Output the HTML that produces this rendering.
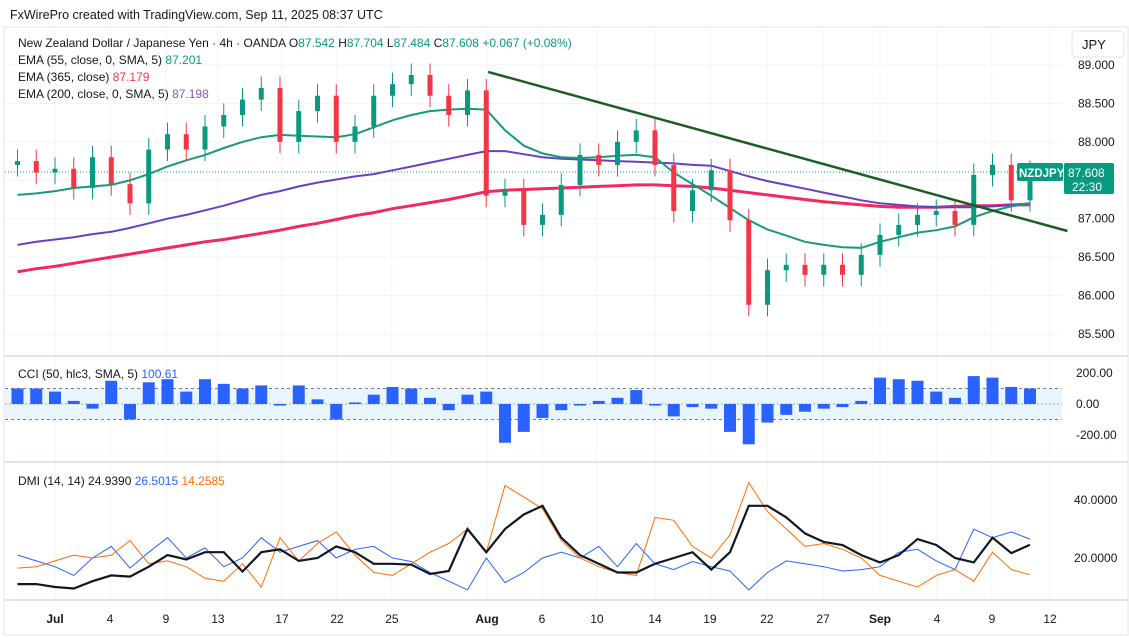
<!DOCTYPE html>
<html><head><meta charset="utf-8"><style>
html,body{margin:0;padding:0;background:#fff;width:1129px;height:638px;overflow:hidden;font-family:"Liberation Sans",sans-serif;}
svg text{font-family:"Liberation Sans",sans-serif;}
</style></head><body>
<svg id="chart" width="1129" height="638" xmlns="http://www.w3.org/2000/svg">
<text x="10" y="19" font-size="12.5" fill="#131722">FxWirePro created with TradingView.com, Sep 11, 2025 08:37 UTC</text>
<rect x="4" y="27" width="1124" height="608" fill="none" stroke="#e0e3eb"/>
<g id="grid"></g>
<g id="main"></g>
<g id="cci"></g>
<g id="dmi"></g>
<g id="axes"></g>
<g id="legend">
<text x="18" y="47" font-size="12" fill="#131722">New Zealand Dollar / Japanese Yen · 4h · OANDA  O<tspan fill="#089981">87.542</tspan>  H<tspan fill="#089981">87.704</tspan>  L<tspan fill="#089981">87.484</tspan>  C<tspan fill="#089981">87.608</tspan>  <tspan fill="#089981">+0.067 (+0.08%)</tspan></text>
<text x="18" y="64" font-size="12" fill="#131722">EMA (55, close, 0, SMA, 5) <tspan fill="#089981">87.201</tspan></text>
<text x="18" y="81" font-size="12" fill="#131722">EMA (365, close) <tspan fill="#f23645">87.179</tspan></text>
<text x="18" y="98" font-size="12" fill="#131722">EMA (200, close, 0, SMA, 5) <tspan fill="#7e57c2">87.198</tspan></text>
<text x="18" y="378" font-size="12" fill="#131722">CCI (50, hlc3, SMA, 5) <tspan fill="#2962ff">100.61</tspan></text>
<text x="18" y="485" font-size="12" fill="#131722">DMI (14, 14) 24.9390 <tspan fill="#2962ff">26.5015</tspan> <tspan fill="#ff6d00">14.2585</tspan></text>
</g>
<g>
<rect x="1072" y="31" width="52" height="26" rx="4" fill="#fff" stroke="#e0e3eb"/>
<text x="1082" y="49" font-size="13" fill="#131722">JPY</text>
</g>
</svg>
<script>
const days = ["Jun27","Jun30","Jul1","Jul2","Jul3","Jul4","Jul7","Jul8","Jul9","Jul10","Jul11","Jul14","Jul15","Jul16","Jul17","Jul18","Jul21","Jul22","Jul23","Jul24","Jul25","Jul28","Jul29","Jul30","Jul31","Aug1","Aug4","Aug5","Aug6","Aug7","Aug8","Aug11","Aug12","Aug13","Aug14","Aug15","Aug18","Aug19","Aug20","Aug21","Aug22","Aug25","Aug26","Aug27","Aug28","Aug29","Sep1","Sep2","Sep3","Sep4","Sep5","Sep8","Sep9","Sep10","Sep11"];
const closes = [87.75,87.6,87.65,87.4,87.8,87.45,87.2,87.9,88.1,87.9,88.2,88.35,88.55,88.7,88.0,88.4,88.6,88.0,88.2,88.6,88.75,88.87,88.6,88.35,88.67,87.3,87.37,86.92,87.05,87.44,87.83,87.7,88.0,88.15,87.7,87.1,87.37,87.63,86.98,85.88,86.33,86.4,86.27,86.4,86.27,86.53,86.79,86.92,87.05,87.1,86.92,87.57,87.7,87.24,87.608];
const openFirst = 87.7;
const ema55 = [87.31,87.33,87.36,87.40,87.42,87.44,87.50,87.58,87.68,87.76,87.83,87.92,88.00,88.06,88.09,88.08,88.07,88.06,88.10,88.19,88.28,88.35,88.40,88.42,88.43,88.42,88.15,87.95,87.85,87.80,87.79,87.80,87.82,87.83,87.80,87.60,87.45,87.30,87.14,86.98,86.86,86.78,86.70,86.66,86.63,86.62,86.70,86.76,86.82,86.85,86.90,87.02,87.10,87.16,87.20];
const ema200 = [86.66,86.70,86.73,86.76,86.80,86.83,86.88,86.94,87.00,87.05,87.11,87.17,87.24,87.31,87.36,87.42,87.47,87.51,87.55,87.58,87.63,87.68,87.73,87.78,87.83,87.88,87.88,87.84,87.80,87.78,87.77,87.76,87.75,87.74,87.73,87.72,87.70,87.69,87.62,87.55,87.49,87.44,87.39,87.34,87.29,87.24,87.20,87.18,87.16,87.15,87.15,87.15,87.16,87.18,87.20];
const ema365 = [86.31,86.35,86.38,86.42,86.46,86.50,86.54,86.58,86.62,86.66,86.70,86.73,86.77,86.81,86.85,86.90,86.94,86.99,87.04,87.08,87.13,87.17,87.21,87.25,87.30,87.35,87.37,87.38,87.39,87.40,87.41,87.42,87.43,87.44,87.44,87.43,87.42,87.40,87.37,87.34,87.31,87.28,87.25,87.22,87.20,87.18,87.16,87.15,87.15,87.15,87.16,87.17,87.17,87.18,87.18];
const trendIdx = [25.1,56.0];
const trendPrice = [88.91,86.84];
const cciValues = [100,100,80,20,-30,150,-100,140,160,80,160,130,100,120,-10,120,30,-100,10,60,110,100,40,-40,60,80,-250,-180,-90,-40,-10,20,40,90,-10,-80,-20,-30,-180,-260,-120,-70,-50,-30,-20,20,170,160,150,80,40,180,170,110,100];
const adx = [11,11,10,9.5,12,14,13.6,17,21,19.5,22,22,15.3,22,23,19,20,24,22,18,18,17.7,14.5,15.5,30,22,30,35,38,27,21,18,15,15,18,20,22,16,22,38,38,34,28.5,25.5,24.5,21,18.5,21,26.5,24.5,20,18.5,27,21.7,24.6];
const plusDI = [21,19,17,14,20,24,16.5,22,27,20,23.5,17,20,27,22,24,26,20,23,24,20,18.8,15,12,9,20,11.5,15,20,22,20,24,17,25,18,16,18.8,17,15.5,9,15,19,18,17,15.5,16,17,22,23,19,16,30,27,29,26.5];
const minusDI = [16.5,17,19,21,20,21,26,18,19,17,13,12,18,10,27,19,25,29,21,15,14,18,22,25,30,22,45,41,37,26,20,17,15,14,34,33,24,20,28,46,36,30,24,25,23,20,14,12,10,14,16,12,22,16,14.2];
const priceTicks = [89,88.5,88,87.5,87,86.5,86,85.5];
const priceTickLabels = ["89.000","88.500","88.000","87.500","87.000","86.500","86.000","85.500"];
const cciTicks = [200,0,-200];
const cciTickLabels = ["200.00","0.00","-200.00"];
const dmiTicks = [40,20];
const dmiTickLabels = ["40.0000","20.0000"];
const timeTickIdx = [2,4.93,7.92,10.69,14.1,17.04,19.97,25.04,27.97,30.9,34,36.93,39.97,42.96,46,49.04,51.97,55.07];
const timeTickLabels = ["Jul","4","9","13","17","22","25","Aug","6","10","14","19","22","27","Sep","4","9","12"];
const lastPrice = 87.608;

const NS="http://www.w3.org/2000/svg";
const X = i => 55 + (i-2)*18.75;
const Y = p => 65 + (89-p)*76.86;
const YC = v => 404 - v*0.155;
const YD = v => 558 - (v-20)*2.9;
function mk(parent,tag,attrs){const e=document.createElementNS(NS,tag);for(const k in attrs)e.setAttribute(k,attrs[k]);document.getElementById(parent).appendChild(e);return e;}

timeTickIdx.forEach((t,k)=>{
  const g=mk('grid','line',{x1:X(t),x2:X(t),y1:28,y2:600,stroke:'#f0f3fa'});
  
  
});
priceTicks.forEach(p=>{
  const g=mk('grid','line',{x1:5,x2:1062,y1:Y(p),y2:Y(p),stroke:'#f0f3fa'});
  
  
});
[356,462,600].forEach(y=>{
  const s=mk('grid','line',{x1:5,x2:1128,y1:y,y2:y,stroke:'#e0e3eb','stroke-width':2});
  
  
});

function linePath(arr,fy){return arr.map((v,i)=>(i?'L':'M')+X(i).toFixed(1)+' '+fy(v).toFixed(1)).join(' ');}
const e365=mk('main','path',{d:linePath(ema365,Y),fill:'none',stroke:'#f02a5e','stroke-width':3});


const e200=mk('main','path',{d:linePath(ema200,Y),fill:'none',stroke:'#6a3fc4','stroke-width':2});


const e55=mk('main','path',{d:linePath(ema55,Y),fill:'none',stroke:'#189a7a','stroke-width':2});



const lp=mk('main','line',{x1:5,x2:1062,y1:Y(lastPrice),y2:Y(lastPrice),stroke:'#089981','stroke-dasharray':'1 2'});



closes.forEach((c,i)=>{
  const o = i===0?openFirst:closes[i-1];
  const up = c>=o;
  const col = up?'#089981':'#f23645';
  const hi=Math.max(o,c)+0.15, lo=Math.min(o,c)-0.15;
  const w=mk('main','line',{x1:X(i),x2:X(i),y1:Y(hi),y2:Y(lo),stroke:col,'stroke-width':1});
  
  
  const b=mk('main','rect',{x:X(i)-2.5,y:Y(Math.max(o,c)),width:5,height:Math.max(1,Math.abs(Y(o)-Y(c))),fill:col});
  
  
});

const tl=mk('main','line',{x1:X(trendIdx[0]),y1:Y(trendPrice[0]),x2:X(trendIdx[1]),y2:Y(trendPrice[1]),stroke:'#1b5e20','stroke-width':2.5});



const band=mk('cci','rect',{x:5,y:YC(100),width:1057,height:YC(-100)-YC(100),fill:'#e3f2fd',opacity:0.8});


[100,-100].forEach(v=>{
  const d=mk('cci','line',{x1:5,x2:1062,y1:YC(v),y2:YC(v),stroke:'#787b86','stroke-dasharray':'3 3'});
  
  
});
const zl=mk('cci','line',{x1:5,x2:1062,y1:YC(0),y2:YC(0),stroke:'#787b86','stroke-dasharray':'2 2','stroke-opacity':0.6});


cciValues.forEach((v,i)=>{
  const y0=YC(0), y1=YC(v);
  const b=mk('cci','rect',{x:X(i)-6,y:Math.min(y0,y1),width:12,height:Math.max(1,Math.abs(y1-y0)),fill:'#2962ff'});
  
  
});

const pd=mk('dmi','path',{d:linePath(plusDI,YD),fill:'none',stroke:'#2962ff','stroke-width':1});


const md=mk('dmi','path',{d:linePath(minusDI,YD),fill:'none',stroke:'#ff6d00','stroke-width':1});


const ad=mk('dmi','path',{d:linePath(adx,YD),fill:'none',stroke:'#131722','stroke-width':2.2});



priceTicks.forEach((p,k)=>{
  const t=mk('axes','text',{x:1078,y:Y(p)+4,'font-size':12,fill:'#131722'});
  t.textContent=priceTickLabels[k];
  
  
});
cciTicks.forEach((v,k)=>{
  const t=mk('axes','text',{x:1076,y:YC(v)+4,'font-size':12,fill:'#131722'});
  t.textContent=cciTickLabels[k];
  
  
});
dmiTicks.forEach((v,k)=>{
  const t=mk('axes','text',{x:1074,y:YD(v)+4,'font-size':12,fill:'#131722'});
  t.textContent=dmiTickLabels[k];
  
  
});
timeTickIdx.forEach((t,k)=>{
  const lab=timeTickLabels[k];
  const bold=isNaN(+lab);
  const e=mk('axes','text',{x:X(t),y:623,'font-size':12,fill:'#131722','text-anchor':'middle','font-weight':bold?'bold':'normal'});
  e.textContent=lab;
  
  
});

const ly=Y(lastPrice);
const sym=mk('axes','rect',{x:1017,y:ly-9,width:46,height:18,rx:2,fill:'#089981'});


const st=mk('axes','text',{x:1019,y:ly+5,'font-size':11.5,'font-weight':'bold',fill:'#fff'});
st.textContent='NZDJPY';


const pb=mk('axes','rect',{x:1064,y:ly-9,width:50,height:31,rx:2,fill:'#089981'});


const pt=mk('axes','text',{x:1068,y:ly+5,'font-size':12,fill:'#fff'});
pt.textContent='87.608';


const ct=mk('axes','text',{x:1072,y:ly+19,'font-size':12,fill:'#fff'});
ct.textContent='22:30';


</script>
</body></html>
